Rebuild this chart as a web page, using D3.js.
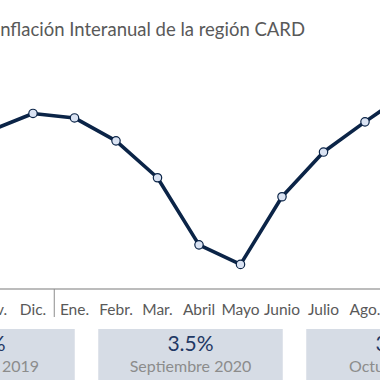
<!DOCTYPE html>
<html>
<head>
<meta charset="utf-8">
<script src="https://cdn.jsdelivr.net/npm/d3@7"></script>
<style>
  body { margin: 0; background: #fff; }
  svg { display: block; font-family: "Lato", "Open Sans", sans-serif; }
</style>
</head>
<body>
<svg id="chart" width="380" height="380"></svg>
<script>
// months shown (Nov 2019 .. Sep 2020), Nov and Sep fall just outside the crop
var months = ["Nov.", "Dic.", "Ene.", "Febr.", "Mar.", "Abril", "Mayo", "Junio", "Julio", "Ago.", "Sept."];
var inflation = [2.84, 3.14, 3.06, 2.65, 1.99, 0.79, 0.44, 1.65, 2.45, 2.99, 3.5];

var boxValues = ["3.1%", "3.5%", "3.6%"];
var boxLabels = ["Diciembre 2019", "Septiembre 2020", "Octubre 2020"];

var titleText = "Inflación Interanual de la región CARD";

var navy = "#0b2447";
var svg = d3.select("#chart");

// x: one slot every ~41.5px, Dic. sits at x=33
var x = d3.scalePoint()
    .domain(months)
    .range([-8.5, 406.5]);

var y = d3.scaleLinear()
    .domain([0, 4])
    .range([289, 65.4]);

// title, anchored at its end so the leading "I" falls off the left edge
var title = svg.append("text")
    .attr("x", 305)
    .attr("y", 36)
    .attr("text-anchor", "end")
    .attr("fill", "#595959")
    .style("font-size", "16px")
    .text(titleText);

// fit title to the width seen in the reference (from "n" to "D")
var tw = title.node().getComputedTextLength();
var iw = svg.append("text").style("font-size", "16px").text("I");
var iWidth = iw.node().getComputedTextLength();
iw.remove();
var fs = 16 * 305 / (tw - iWidth);
title.style("font-size", fs + "px");

// axis line
svg.append("line")
    .attr("x1", 0).attr("x2", 380)
    .attr("y1", 289).attr("y2", 289)
    .attr("stroke", "#a6a6a6")
    .attr("stroke-width", 1.5);

// year separator between Dic. and Ene.
var sepX = (x("Dic.") + x("Ene.")) / 2 + 0.5;
svg.append("line")
    .attr("x1", sepX).attr("x2", sepX)
    .attr("y1", 289).attr("y2", 317)
    .attr("stroke", "#8c8c8c")
    .attr("stroke-width", 1);

// month labels
svg.append("g").selectAll("text")
    .data(months)
    .enter().append("text")
    .attr("x", function(d) { return x(d); })
    .attr("y", 315)
    .attr("text-anchor", "middle")
    .attr("fill", "#595959")
    .style("font-size", "15.5px")
    .text(function(d) { return d; });

// line
var line = d3.line()
    .x(function(d, i) { return x(months[i]); })
    .y(function(d) { return y(d); });

svg.append("path")
    .datum(inflation)
    .attr("fill", "none")
    .attr("stroke", navy)
    .attr("stroke-width", 3.6)
    .attr("stroke-linejoin", "round")
    .attr("d", line);

svg.append("g").selectAll("circle")
    .data(inflation)
    .enter().append("circle")
    .attr("cx", function(d, i) { return x(months[i]); })
    .attr("cy", function(d) { return y(d); })
    .attr("r", 4.2)
    .attr("fill", "#dae3f3")
    .attr("stroke", navy)
    .attr("stroke-width", 1.2);

// summary boxes
var boxW = 184.5;
var boxCx = function(i) { return 190.5 + (i - 1) * 208; };

var boxes = svg.append("g").selectAll("g")
    .data(boxValues)
    .enter().append("g");

boxes.append("rect")
    .attr("x", function(d, i) { return boxCx(i) - boxW / 2; })
    .attr("y", 329)
    .attr("width", boxW)
    .attr("height", 60)
    .attr("fill", "#d6dce5");

boxes.append("text")
    .attr("x", function(d, i) { return boxCx(i); })
    .attr("y", 351)
    .attr("text-anchor", "middle")
    .attr("fill", "#1f3864")
    .style("font-size", "21px")
    .text(function(d) { return d; });

boxes.append("text")
    .attr("x", function(d, i) { return boxCx(i); })
    .attr("y", 372)
    .attr("text-anchor", "middle")
    .attr("fill", "#8c8c8c")
    .style("font-size", "16px")
    .text(function(d, i) { return boxLabels[i]; });
</script>
</body>
</html>
